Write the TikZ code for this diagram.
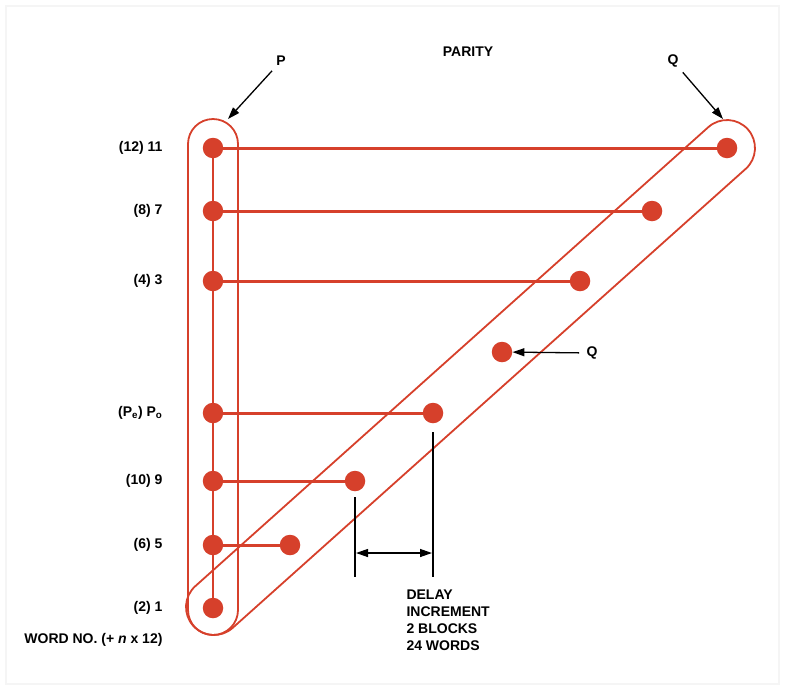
\documentclass[tikz,border=0pt]{standalone}
\usepackage{fontspec}
\setmainfont{Liberation Sans}
\usetikzlibrary{arrows.meta}
\definecolor{DotRed}{RGB}{214,64,43}

\begin{document}
\begin{tikzpicture}[x=1pt,y=-1pt,
    every node/.style={font=\fontsize{14}{17}\selectfont\bfseries},
    dot/.style={circle,fill=DotRed,minimum size=20.5pt,inner sep=0pt},
    link/.style={DotRed,line width=3pt},
    loop/.style={DotRed,line width=1.8pt},
    arr/.style={-{Triangle[length=12pt,width=8pt]},line width=1.3pt}]
            \useasboundingbox (0,0) rectangle (790,694);
            \draw[black!4,line width=1.5pt] (6,6) rectangle (779,684);

            \draw[loop,rounded corners=25pt] (188,119) rectangle (238,635);
            \begin{scope}[shift={(214,607)},rotate=41.82]
                \draw[loop] (0,28) -- (688.4,28) arc[start angle=90,end angle=-90,radius=28]
                    -- (0,-28) arc[start angle=-90,end angle=-270,radius=28] -- cycle;
            \end{scope}

            \node[anchor=east] (l11) at (166,148) {(12) 11};
            \node[anchor=east] (l7) at (166,211) {(8) 7};
            \node[anchor=east] (l3) at (166,281) {(4) 3};
            \node[anchor=east] (lpo) at (166,413) {(P\textsubscript{e}) P\textsubscript{o}};
            \node[anchor=east] (l9) at (166,481) {(10) 9};
            \node[anchor=east] (l5) at (166,545) {(6) 5};
            \node[anchor=east] (l1) at (166,608) {(2) 1};
            \node[anchor=east] (lword) at (166,640) {WORD NO. (+ \textit{n} x 12)};

            \node (parity) at (468,52) {PARITY};
            \node (plab) at (281,61) {P};
            \node (qlab) at (673,61) {Q};
            \node (qlab2) at (592,353) {Q};
            \coordinate (ptip) at (228,119);
            \coordinate (qtip) at (723,119);

            \node[dot] (p11) at (213,148) {};
            \node[dot] (p7) at (213,211) {};
            \node[dot] (p3) at (213,281) {};
            \node[dot] (po) at (213,413) {};
            \node[dot] (p9) at (213,481) {};
            \node[dot] (p5) at (213,545) {};
            \node[dot] (p1) at (213,608) {};

            \node[dot] (q11) at (727,148) {};
            \node[dot] (q7) at (652,211) {};
            \node[dot] (q3) at (580,281) {};
            \node[dot] (qq) at (502,352) {};
            \node[dot] (qo) at (433,413) {};
            \node[dot] (q9) at (355,481) {};
            \node[dot] (q5) at (290,545) {};

            \draw[DotRed,line width=2.2pt] (p11) -- (p7) -- (p3) -- (po) -- (p9) -- (p5) -- (p1);
            \draw[link] (p11) -- (q11);
            \draw[link] (p7) -- (q7);
            \draw[link] (p3) -- (q3);
            \draw[link] (po) -- (qo);
            \draw[link] (p9) -- (q9);
            \draw[link] (p5) -- (q5);

            \draw[arr,shorten <=2pt] (plab) -- (ptip);
            \draw[arr,shorten <=2pt] (qlab) -- (qtip);
            \draw[arr,shorten <=4pt] (qlab2) -- (qq);

            \coordinate (d1t) at (355,497);
            \coordinate (d1b) at (355,577);
            \coordinate (d2t) at (433,432);
            \coordinate (d2b) at (433,577);
            \coordinate (d1m) at (356,553);
            \coordinate (d2m) at (432,553);
            \draw[line width=2pt] (d1t) -- (d1b);
            \draw[line width=2pt] (d2t) -- (d2b);
            \draw[{Triangle[length=12pt,width=8pt]}-{Triangle[length=12pt,width=8pt]},line width=1.3pt] (d1m) -- (d2m);
            \node[anchor=north west,align=left] (delay) at (403,586) {DELAY\\INCREMENT\\2 BLOCKS\\24 WORDS};
        \end{tikzpicture}
\end{document}
